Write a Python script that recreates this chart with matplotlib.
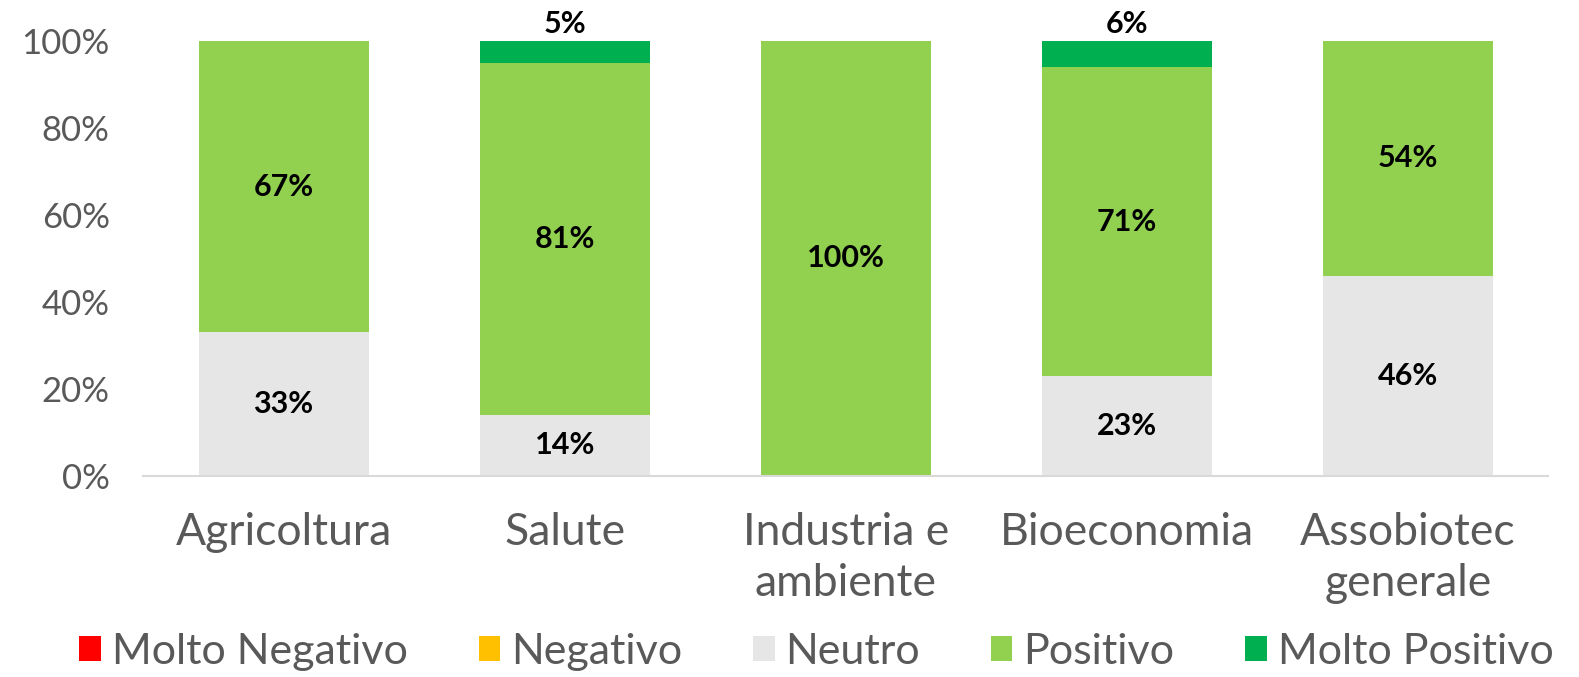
import numpy as np
import matplotlib
matplotlib.use("Agg")
from matplotlib import pyplot as plt

categories = ["Agricoltura", "Salute", "Industria e\nambiente", "Bioeconomia", "Assobiotec\ngenerale"]
series_names = ["Molto Negativo", "Negativo", "Neutro", "Positivo", "Molto Positivo"]
molto_negativo = [0, 0, 0, 0, 0]
negativo = [0, 0, 0, 0, 0]
neutro = [33, 14, 0, 23, 46]
positivo = [67, 81, 100, 71, 54]
molto_positivo = [0, 5, 0, 6, 0]

colors = ["#FF0000", "#FFC000", "#E6E6E6", "#92D050", "#00B050"]
grey = "#595959"

plt.rcParams['font.family'] = ['Lato', 'DejaVu Sans']

fig = plt.figure(figsize=(15.79, 6.77), dpi=100)
ax = fig.add_axes([0.0906, 0.297, 0.89, 0.6424])

x = np.arange(len(categories))
bottom = np.zeros(len(categories))
all_series = [molto_negativo, negativo, neutro, positivo, molto_positivo]
for name, vals, col in zip(series_names, all_series, colors):
    v = np.array(vals) / 100.0
    ax.bar(x, v, 0.605, bottom=bottom, color=col, label=name)
    for xi, b, h, raw in zip(x, bottom, v, vals):
        if raw <= 0:
            continue
        if name == "Molto Positivo":
            ypos = 1.04
        else:
            ypos = b + h / 2
        ax.text(xi, ypos, f"{raw}%", ha="center", va="center",
                fontsize=22, fontweight="bold", color="black")
    bottom += v

ax.set_xlim(-0.5, len(categories) - 0.5)
ax.set_ylim(0, 1)
ticks = np.arange(0, 1.01, 0.2)
ax.set_yticks(ticks)
ax.set_yticklabels([f"{int(round(t * 100))}%" for t in ticks], fontsize=25, color=grey)
ax.set_xticks(x)
ax.set_xticklabels(categories, fontsize=32, color=grey, linespacing=1.3)
ax.tick_params(axis="both", length=0)
ax.tick_params(axis="x", pad=26)
ax.tick_params(axis="y", pad=24)
for s in ["top", "right", "left"]:
    ax.spines[s].set_visible(False)
ax.spines["bottom"].set_color("#D9D9D9")
ax.spines["bottom"].set_linewidth(1.5)

fig.legend(loc="center", bbox_to_anchor=(0.517, 0.037), ncol=5, frameon=False,
           handlelength=0.5, handleheight=0.5, handletextpad=0.25,
           columnspacing=1.65, labelcolor=grey, prop={"size": 31})

fig.savefig("out.png", dpi=100)
